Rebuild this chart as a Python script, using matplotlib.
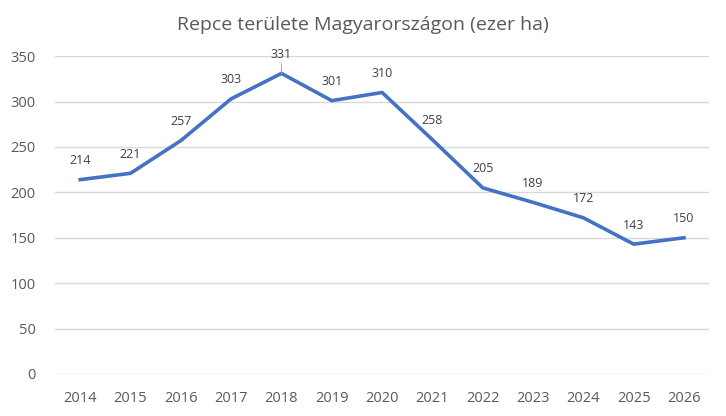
import matplotlib.pyplot as plt

years = ['2014', '2015', '2016', '2017', '2018', '2019', '2020',
         '2021', '2022', '2023', '2024', '2025', '2026']
area = [214, 221, 257, 303, 331, 301, 310, 258, 205, 189, 172, 143, 150]
yticks = [0, 50, 100, 150, 200, 250, 300, 350]

plt.rcParams['font.family'] = ['Liberation Sans Narrow', 'Open Sans', 'DejaVu Sans']

fig = plt.figure(figsize=(7.26, 4.16), dpi=100)
ax = fig.add_axes([0.0758, 0.101, 0.901, 0.764])

x = list(range(len(years)))
ax.plot(x, area, color='#4472C4', linewidth=2.6, solid_joinstyle='round')

# data labels above points (2018 has a leader line in the original)
for xi, v in zip(x, area):
    arrow = None
    if years[xi] == '2018':
        arrow = dict(arrowstyle='-', color='#A6A6A6', linewidth=0.7, shrinkA=0, shrinkB=0)
    ax.annotate(str(v), (xi, v), xytext=(0, 9), textcoords='offset points',
                ha='center', va='bottom', fontsize=9, color='#404040',
                arrowprops=arrow)

ax.set_xlim(-0.5, len(years) - 0.5)
ax.set_ylim(0, 350)
ax.set_yticks(yticks)
ax.set_xticks(x)
ax.set_xticklabels(years)
ax.grid(axis='y', color='#D9D9D9', linewidth=1)
ax.set_axisbelow(True)
for s in ax.spines.values():
    s.set_visible(False)
ax.tick_params(axis='both', length=0, labelsize=10.5, colors='#595959')
ax.tick_params(axis='x', pad=12)
ax.tick_params(axis='y', pad=14)

fig.text(0.5, 0.94, 'Repce területe Magyarországon (ezer ha)', ha='center',
         va='center', fontsize=14, color='#595959')

fig.savefig('out.png', dpi=100)
